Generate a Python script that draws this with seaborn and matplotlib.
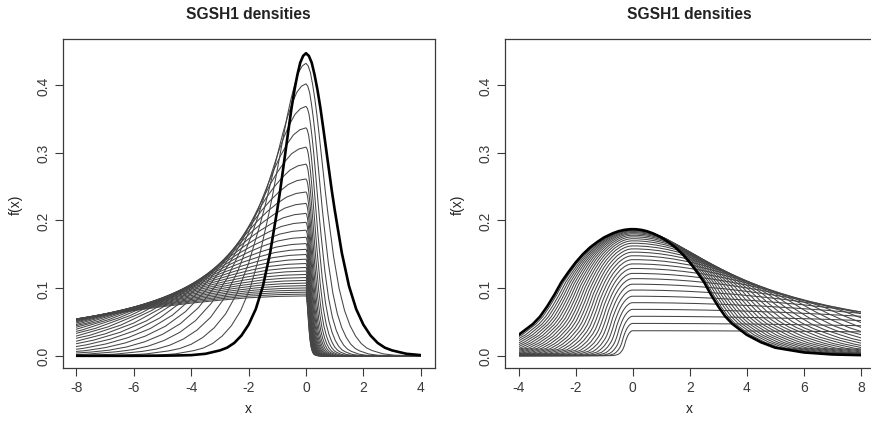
import numpy as np
import pandas as pd
import matplotlib
matplotlib.use("Agg")
import matplotlib.pyplot as plt
from matplotlib.patches import Rectangle
import seaborn as sns

# ---- values ----
title = "SGSH1 densities"
x_label = "x"
y_label = "f(x)"

# bold (symmetric) reference density of the left panel, read at positions u
base_u_left = [-40, -8, -6, -5, -4.5, -4, -3.5, -3, -2.75, -2.5, -2.25, -2, -1.75, -1.5, -1.25,
               -1, -0.9, -0.8, -0.7, -0.6, -0.5, -0.4, -0.3, -0.2, -0.1,
               0, 0.1, 0.2, 0.3, 0.4, 0.5, 0.6, 0.7, 0.8, 0.9, 1,
               1.25, 1.5, 1.75, 2, 2.25, 2.5, 2.75, 3, 3.5, 4, 4.5, 5, 6, 8, 40]
base_f_left = [0.0, 0.0, 0.0, 0.0002, 0.0005, 0.001, 0.003, 0.008, 0.012, 0.019, 0.030, 0.046, 0.069, 0.103, 0.152,
               0.216, 0.244, 0.275, 0.306, 0.337, 0.367, 0.393, 0.415, 0.433, 0.443,
               0.447, 0.443, 0.433, 0.415, 0.393, 0.367, 0.337, 0.306, 0.275, 0.244, 0.216,
               0.152, 0.103, 0.069, 0.046, 0.030, 0.019, 0.012, 0.008, 0.003, 0.001, 0.0005, 0.0002, 0.0, 0.0, 0.0]

# bold (symmetric) reference density of the right panel
base_u_right = [-40, -8, -7, -6, -5, -4.5, -4, -3.5, -3.25, -3, -2.75, -2.5, -2.25, -2, -1.75, -1.5, -1.25,
                -1, -0.9, -0.8, -0.7, -0.6, -0.5, -0.4, -0.3, -0.2, -0.1,
                0, 0.1, 0.2, 0.3, 0.4, 0.5, 0.6, 0.7, 0.8, 0.9, 1,
                1.25, 1.5, 1.75, 2, 2.25, 2.5, 2.75, 3, 3.25, 3.5, 4, 4.5, 5, 6, 7, 8, 40]
base_f_right = [0.0, 0.001, 0.002, 0.005, 0.012, 0.020, 0.031, 0.047, 0.058, 0.073, 0.090, 0.109, 0.124, 0.138, 0.150, 0.160, 0.168,
                0.175, 0.177, 0.179, 0.181, 0.1825, 0.184, 0.185, 0.186, 0.1865, 0.187,
                0.187, 0.187, 0.1865, 0.186, 0.185, 0.184, 0.1825, 0.181, 0.179, 0.177, 0.175,
                0.168, 0.160, 0.150, 0.138, 0.124, 0.109, 0.090, 0.073, 0.058, 0.047, 0.031, 0.020, 0.012, 0.005, 0.002, 0.001, 0.0]

# skewness parameters of the two plotted families (read from the ladders of peak / plateau heights)
skew_left = [1.0, 1.3, 1.6, 1.9, 2.2, 2.5, 2.8, 3.1, 3.4, 3.7, 4.0, 4.3, 4.6, 4.9, 5.2, 5.5,
             5.8, 6.1, 6.4, 6.7, 7.0, 7.3, 7.6, 7.9, 8.2, 8.5, 8.8, 9.1, 9.4, 9.7, 10.0]
skew_right = [1.00, 0.97, 0.94, 0.91, 0.88, 0.85, 0.82, 0.79, 0.76, 0.73, 0.70, 0.67, 0.64, 0.61,
              0.58, 0.55, 0.52, 0.49, 0.46, 0.43, 0.40, 0.37, 0.34, 0.31, 0.28, 0.25, 0.22, 0.19,
              0.16, 0.13, 0.10]

left_range = (-8, 4)
right_range = (-4, 8)
left_xticks = [-8, -6, -4, -2, 0, 2, 4]
right_xticks = [-4, -2, 0, 2, 4, 6, 8]
yticks = [0.0, 0.1, 0.2, 0.3, 0.4]


def family(base_u, base_f, skews):
    """Two-piece (inverse scale factor) skewing of the reference density."""
    u = np.asarray(base_u, float)
    f = np.asarray(base_f, float)
    parts = []
    for k, g in enumerate(skews):
        c = 2.0 / (g + 1.0 / g)
        x = np.where(u < 0, u * g, u / g)
        parts.append(pd.DataFrame({"x": x, "f": f * c, "curve": k}))
    return pd.concat(parts, ignore_index=True)


df_left = family(base_u_left, base_f_left, skew_left)
df_right = family(base_u_right, base_f_right, skew_right)

sns.set_style("ticks")
plt.rcParams["font.family"] = ["Liberation Sans", "DejaVu Sans"]
plt.rcParams["axes.unicode_minus"] = False

fig = plt.figure(figsize=(8.71, 4.27), dpi=100)
W, H = 871.0, 427.0
ax_l = fig.add_axes([62.7 / W, 1 - 369 / H, (434.5 - 62.7) / W, (369 - 40) / H])
ax_r = fig.add_axes([505 / W, 1 - 369 / H, (874.5 - 505) / W, (369 - 40) / H])

frame_col = "#3a3a3a"
for ax, df, xr, xt in [(ax_l, df_left, left_range, left_xticks),
                       (ax_r, df_right, right_range, right_xticks)]:
    sns.lineplot(data=df[df["curve"] > 0], x="x", y="f", units="curve", estimator=None,
                 sort=False, color="#454545", linewidth=0.75, ax=ax, legend=False)
    sns.lineplot(data=df[df["curve"] == 0], x="x", y="f", units="curve", estimator=None,
                 sort=False, color="black", linewidth=1.9, ax=ax, legend=False)
    span = xr[1] - xr[0]
    ax.set_xlim(xr[0] - 0.04 * span, xr[1] + 0.04 * span)
    ax.set_ylim(-0.018, 0.468)
    clip = Rectangle((xr[0], -1), span, 2, transform=ax.transData)
    for ln in ax.lines:
        ln.set_clip_path(clip)
    ax.set_xticks(xt)
    ax.set_xticklabels([str(v) for v in xt])
    ax.set_yticks(yticks)
    ax.set_yticklabels([f"{v:.1f}" for v in yticks], rotation=90, va="center")
    ax.tick_params(direction="out", length=6, width=0.8, colors=frame_col,
                   labelsize=10, pad=3)
    for s in ax.spines.values():
        s.set_visible(True)
        s.set_color(frame_col)
        s.set_linewidth(0.9)
    ax.set_title(title, fontsize=11.2, fontweight="bold", color="#222222", pad=15)
    ax.set_xlabel(x_label, fontsize=10, color="#222222", labelpad=5)
    ax.set_ylabel(y_label, fontsize=10, color="#222222", labelpad=10)

fig.savefig("out.png", dpi=100)
